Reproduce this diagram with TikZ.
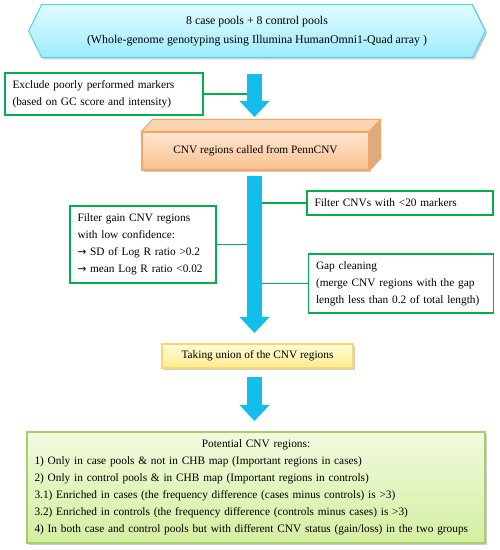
\documentclass[tikz,border=0pt]{standalone}
\usepackage{fontspec}
\setmainfont{Liberation Serif}
\newfontfamily\symfont{DejaVu Sans}
\usetikzlibrary{arrows.meta,shadows,backgrounds}

\definecolor{boxgreen}{RGB}{0,176,80}
\definecolor{arrowblue}{RGB}{20,190,235}
\definecolor{hexline}{RGB}{80,210,240}
\definecolor{cnvline}{RGB}{245,165,100}
\definecolor{unionline}{RGB}{248,215,110}
\definecolor{finalline}{RGB}{165,208,105}

% Bullet arrow of the filter box
\newcommand{\thenarrow}{{\symfont\fontsize{6}{9.7}\selectfont →}}

\tikzset{
  greenbox/.style={draw=boxgreen, line width=0.7pt, fill=white, align=left, inner xsep=0.15cm, inner ysep=0pt},
  link/.style={draw=boxgreen, line width=0.6pt},
  bigarrow/.style={draw=arrowblue, line width=0.3cm, -{Triangle[width=0.58cm,length=0.32cm]}},
  softshadow/.style={drop shadow={shadow xshift=0.04cm, shadow yshift=-0.04cm, opacity=0.2, fill=black}}
}

\begin{document}
\begin{tikzpicture}[every node/.style={font=\fontsize{6.45}{9.7}\selectfont}]
        % Page with the reference's margins
        \useasboundingbox (0,0) rectangle (9.98,11);

        % Input pools (hexagon)
        \node[minimum width=8.6cm, minimum height=1.04cm, align=center, font=\fontsize{6.75}{10.8}\selectfont] (pools) at (5.14,10.38)
          {8 case pools + 8 control pools\\(Whole-genome genotyping using Illumina HumanOmni1-Quad array )};
        \begin{scope}[on background layer]
          \fill[white] (0,0) rectangle (9.98,11);
          \path[softshadow, draw=hexline, line width=0.6pt, top color={rgb,255:red,224;green,251;blue,255}, bottom color={rgb,255:red,158;green,236;blue,252}]
            ([xshift=-0.26cm]pools.west) -- (pools.north west) -- (pools.north east)
            -- ([xshift=0.26cm]pools.east) -- (pools.south east) -- (pools.south west) -- cycle;
        \end{scope}

        % CNV calling (cuboid)
        \node[softshadow, draw=cnvline, line width=0.6pt, minimum width=4.54cm, minimum height=0.76cm,
          top color={rgb,255:red,253;green,230;blue,208}, bottom color={rgb,255:red,250;green,192;blue,145}] (cnv) at (5.11,7.98)
          {CNV regions called from PennCNV};
        \filldraw[draw=cnvline, line width=0.6pt, fill={rgb,255:red,252;green,214;blue,180}]
          (cnv.north west) -- ++(0.22,0.24) -- ([shift={(0.22,0.24)}]cnv.north east) -- (cnv.north east) -- cycle;
        \filldraw[draw=cnvline, line width=0.6pt, fill={rgb,255:red,222;green,170;blue,130}]
          (cnv.north east) -- ++(0.22,0.24) -- ([shift={(0.22,0.24)}]cnv.south east) -- (cnv.south east) -- cycle;

        % Union of regions
        \node[softshadow, draw=unionline, line width=0.6pt, minimum width=3.82cm, minimum height=0.48cm,
          top color={rgb,255:red,255;green,252;blue,218}, bottom color={rgb,255:red,253;green,236;blue,140}] (union) at (5.15,3.88)
          {Taking union of the CNV regions};

        % Final list of regions
        \node[softshadow, draw=finalline, line width=0.6pt, minimum width=9.16cm, minimum height=2.22cm,
          text width=8.86cm, align=left, inner xsep=0.15cm,
          top color={rgb,255:red,242;green,250;blue,222}, bottom color={rgb,255:red,212;green,238;blue,160}] (potential) at (5.12,1.25)
          {\makebox[\linewidth]{Potential CNV regions:}\\
           1) Only in case pools \& not in CHB map (Important regions in cases)\\
           2) Only in control pools \& in CHB map (Important regions in controls)\\
           3.1) Enriched in cases (the frequency difference (cases minus controls) is >3)\\
           3.2) Enriched in controls (the frequency difference (controls minus cases) is >3)\\
           4) In both case and control pools but with different CNV status (gain/loss) in the two groups};

        % Filtering steps
        \node[greenbox, minimum width=3.96cm, minimum height=0.84cm, text width=3.66cm] (exclude) at (2.08,9.12)
          {Exclude poorly performed markers\\(based on GC score and intensity)};
        \node[greenbox, minimum width=3.72cm, minimum height=0.48cm, text width=3.42cm] (markers) at (8.0,6.94)
          {Filter CNVs with <20 markers};
        \node[greenbox, minimum width=2.88cm, minimum height=1.54cm, text width=2.62cm] (gain) at (2.86,6.11)
          {Filter gain CNV regions\\with low confidence:\\\thenarrow{} SD of Log R ratio >0.2\\\thenarrow{} mean Log R ratio <0.02};
        \node[greenbox, minimum width=3.68cm, minimum height=1.18cm, text width=3.40cm] (gap) at (8.02,5.33)
          {Gap cleaning\\(merge CNV regions with the gap\\length less than 0.2 of total length)};

        % Shafts of the big arrows
        \coordinate (a1s) at (5.09,9.52);
        \coordinate (a1e) at (5.09,8.66);
        \coordinate (a2s) at (5.09,7.48);
        \coordinate (a2e) at (5.09,4.34);
        \coordinate (a3s) at (5.09,3.46);
        \coordinate (a3e) at (5.09,2.58);

        % Connect boxes to the arrows
        \draw[link] (exclude.east) -- (exclude.east -| a1s);
        \draw[link] (markers.west) -- (markers.west -| a2s);
        \draw[link] (gain.east) -- (gain.east -| a2s);
        \draw[link] (gap.west) -- (gap.west -| a2s);

        % Draw the big arrows on top
        \foreach \i in {1,2,3}{
            \draw[bigarrow] (a\i s) -- (a\i e);
          }
      \end{tikzpicture}
\end{document}
